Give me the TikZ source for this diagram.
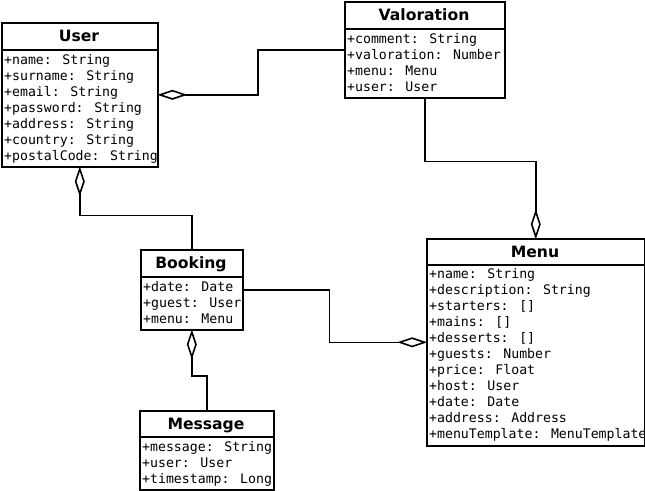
\documentclass[tikz,border=0pt]{standalone}
\usepackage{fontspec}
\setmainfont{DejaVu Sans}
\newfontfamily\monof{DejaVu Sans Mono}
\usetikzlibrary{arrows.meta}
\begin{document}
\begin{tikzpicture}[x=1pt,y=-1pt,
  cls/.style={draw, line width=1.6pt, rectangle, inner sep=0pt, anchor=north west, fill=white},
  ttl/.style={font=\bfseries\fontsize{15.6}{18}\selectfont, anchor=base, inner sep=0pt},
  attr/.style={font=\monof\fontsize{13.2}{16}\selectfont, anchor=north west, align=left, inner sep=0pt},
  sepline/.style={line width=1.6pt},
  dia/.tip={Diamond[length=30pt, width=10pt, fill=white]},
  agg/.style={line width=1.6pt, -dia, shorten >=-1.2pt},
  gga/.style={line width=1.6pt, dia-, shorten <=-1.2pt},
]
\fill[white] (0,0) rectangle (645,490);
\useasboundingbox (0,0) rectangle (645,490);

% class boxes
\node[cls, minimum width=156pt, minimum height=144pt] (user) at (1,22) {};
\node[cls, minimum width=160pt, minimum height=96pt] (val) at (344,1) {};
\node[cls, minimum width=218pt, minimum height=207pt] (menu) at (426,238) {};
\node[cls, minimum width=102pt, minimum height=80pt] (booking) at (140,249) {};
\node[cls, minimum width=134pt, minimum height=79pt] (message) at (139,410) {};

% separators
\draw[sepline] (user.west |- 0,50) -- (user.east |- 0,50);
\draw[sepline] (val.west |- 0,29) -- (val.east |- 0,29);
\draw[sepline] (menu.west |- 0,265) -- (menu.east |- 0,265);
\draw[sepline] (booking.west |- 0,277) -- (booking.east |- 0,277);
\draw[sepline] (message.west |- 0,437) -- (message.east |- 0,437);

% titles
\node[ttl] (usert) at (79,41.5) {User};
\node[ttl] (valt) at (424,20.5) {Valoration};
\node[ttl] (menut) at (535,257.5) {Menu};
\node[ttl] (bookingt) at (191,268.5) {Booking};
\node[ttl] (messaget) at (206,429.5) {Message};

% attributes
\node[attr] (usera) at (4,52.8) {\strut+name: String\\+surname: String\\+email: String\\+password: String\\+address: String\\+country: String\\+postalCode: String};
\node[attr] (vala) at (347,31.8) {\strut+comment: String\\+valoration: Number\\+menu: Menu\\+user: User};
\node[attr] (menua) at (429,267.3) {\strut+name: String\\+description: String\\+starters: []\\+mains: []\\+desserts: []\\+guests: Number\\+price: Float\\+host: User\\+date: Date\\+address: Address\\+menuTemplate: MenuTemplate};
\node[attr] (bookinga) at (143,279.8) {\strut+date: Date\\+guest: User\\+menu: Menu};
\node[attr] (messagea) at (142,439.8) {\strut+message: String\\+user: User\\+timestamp: Long};

% connectors
\draw[agg] (val.west) -- ++(-86,0) |- (user.east);
\draw[agg] (val.south) -- ++(0,63) -| (menu.north);
\draw[gga] (user.south) -- ++(0,48) -| (booking.north);
\draw[agg] (booking.east) -- ++(86,0) |- (menu.west);
\draw[agg] (message.north) -- ++(0,-34) -| (booking.south);
\end{tikzpicture}
\end{document}
